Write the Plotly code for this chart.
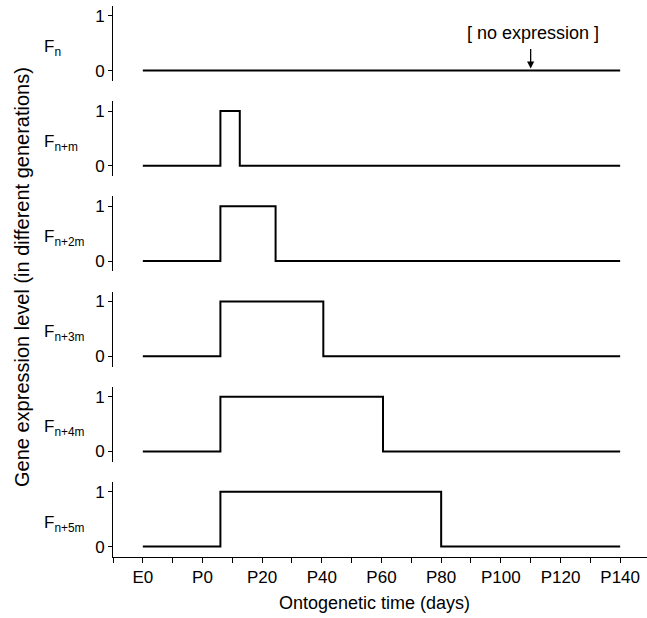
import plotly.graph_objects as go

# ---- data ----
generation_labels = ["F<sub>n</sub>", "F<sub>n+m</sub>", "F<sub>n+2m</sub>",
                     "F<sub>n+3m</sub>", "F<sub>n+4m</sub>", "F<sub>n+5m</sub>"]
onset_day = [None, 6, 6, 6, 6, 6]                # day expression switches on
offset_day = [None, 12.5, 24.5, 40.5, 60.5, 80]  # day expression switches off
start_day = -20
end_day = 140
tick_days = [-20, 0, 20, 40, 60, 80, 100, 120, 140]
tick_labels = ["E0", "P0", "P20", "P40", "P60", "P80", "P100", "P120", "P140"]
y_ticks = [0, 1]
no_expr_day = 110

FONT = "Liberation Sans, Arial, Helvetica, sans-serif"
FS = 17

W, H = 647, 618
top_px, bot_px = 6, 557
period, panel_h = 95.2, 75
plot_h = bot_px - top_px

fig = go.Figure()
layout = {}
annotations = []
n = len(generation_labels)
for k in range(n):
    if onset_day[k] is None:
        xs = [start_day, end_day]
        ys = [0, 0]
    else:
        xs = [start_day, onset_day[k], onset_day[k], offset_day[k], offset_day[k], end_day]
        ys = [0, 0, 1, 1, 0, 0]
    yname = "y" if k == 0 else f"y{k+1}"
    fig.add_trace(go.Scatter(x=xs, y=ys, mode="lines", xaxis="x", yaxis=yname,
                             line=dict(color="black", width=2), showlegend=False,
                             hoverinfo="skip"))
    t = top_px + period * k
    b = t + panel_h
    dom = [(bot_px - b) / plot_h, (bot_px - t) / plot_h]
    key = "yaxis" if k == 0 else f"yaxis{k+1}"
    layout[key] = dict(domain=dom, range=[-0.19, 1.18], anchor="x",
                       tickvals=y_ticks, ticktext=[str(v) for v in y_ticks],
                       ticks="outside", ticklen=4, tickwidth=1, tickcolor="black",
                       showline=True, linecolor="black", linewidth=1,
                       showgrid=False, zeroline=False, fixedrange=True,
                       tickfont=dict(family=FONT, size=FS, color="black"))
    annotations.append(dict(text=generation_labels[k], xref="paper", yref=yname,
                            x=-0.133, y=0.42, xanchor="left", yanchor="middle",
                            showarrow=False,
                            font=dict(family=FONT, size=FS, color="black")))

layout["xaxis"] = dict(range=[-30, 149], anchor="y6", domain=[0, 1],
                       tickvals=tick_days, ticktext=tick_labels,
                       ticks="outside", ticklen=5, tickwidth=1, tickcolor="black",
                       minor=dict(dtick=10, tick0=-30, ticks="outside", ticklen=5,
                                  tickwidth=1, tickcolor="black", showgrid=False),
                       showline=True, linecolor="black", linewidth=1,
                       showgrid=False, zeroline=False, fixedrange=True,
                       tickfont=dict(family=FONT, size=FS, color="black"))

# axis titles
annotations.append(dict(text="Ontogenetic time (days)", xref="paper", yref="paper",
                        x=0.49, y=(bot_px - 603) / plot_h, xanchor="center",
                        yanchor="middle", showarrow=False,
                        font=dict(family=FONT, size=18, color="black")))
annotations.append(dict(text="Gene expression level (in different generations)",
                        xref="paper", yref="paper", textangle=-90,
                        x=(22 - 113) / 534, y=(bot_px - 277) / plot_h,
                        xanchor="center", yanchor="middle", showarrow=False,
                        font=dict(family=FONT, size=20, color="black")))
# no-expression note
annotations.append(dict(text="", x=no_expr_day, y=0, xref="x", yref="y",
                        ax=no_expr_day, ay=0.42, axref="x", ayref="y",
                        showarrow=True, arrowhead=2, arrowsize=1.1, arrowwidth=1.3,
                        arrowcolor="black", standoff=2))
annotations.append(dict(text="[ no expression ]", x=no_expr_day + 0.8, y=0.68,
                        xref="x", yref="y", xanchor="center", yanchor="middle",
                        showarrow=False,
                        font=dict(family=FONT, size=18, color="black")))

fig.update_layout(width=W, height=H, margin=dict(l=113, r=0, t=top_px, b=H - bot_px),
                  paper_bgcolor="white", plot_bgcolor="white",
                  annotations=annotations, **layout)

fig.write_html("out.html", config={"displayModeBar": False, "staticPlot": True},
               post_script="document.body.style.margin='0px';"
                           "document.body.style.overflow='hidden';")
